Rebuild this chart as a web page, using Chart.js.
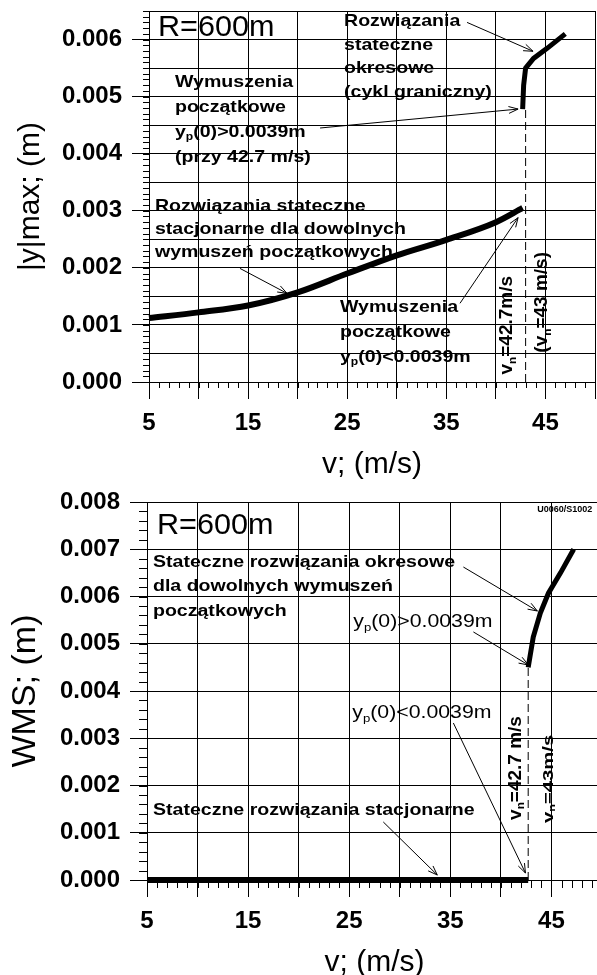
<!DOCTYPE html>
<html>
<head>
<meta charset="utf-8">
<script src="https://cdn.jsdelivr.net/npm/chart.js@4.4.1/dist/chart.umd.min.js"></script>
<style>
    html, body { margin: 0; padding: 0; background: #fff; overflow: hidden; }
    canvas { display: block; }
</style>
</head>
<body>
<canvas id="ampChart" width="597" height="487"></canvas>
<canvas id="wmsChart" width="602" height="488"></canvas>
<script>
// |y|max against speed (R=600m)
const speedLow = [5, 10, 15, 20, 25, 30, 35, 40, 42.7];
const ampLow = [0.00112, 0.00122, 0.00134, 0.00157, 0.00190, 0.00222, 0.00249, 0.00280, 0.00305];
const speedHigh = [42.7, 42.8, 43.0, 43.8, 45.2, 47.0];
const ampHigh = [0.00478, 0.0052, 0.0055, 0.00567, 0.00585, 0.0061];
const ampLimitSpeed = [43, 43];
const ampLimit = [0, 0.00478];

// WMS against speed
const wmsSpeedLow = [5, 42.7];
const wmsLow = [0, 0];
const wmsSpeedHigh = [42.7, 43.2, 43.9, 44.7, 45.9, 47.2];
const wmsHigh = [0.0045, 0.00514, 0.00565, 0.00607, 0.0065, 0.0070];
const wmsLimitSpeed = [42.7, 42.7];
const wmsLimit = [0, 0.0045];

// tick labels
const speedTickLabels = [5, 15, 25, 35, 45];
const ampTickLabels = [0, 0.001, 0.002, 0.003, 0.004, 0.005, 0.006];
const wmsTickLabels = [0, 0.001, 0.002, 0.003, 0.004, 0.005, 0.006, 0.007, 0.008];

const FONT = '"Liberation Sans", Arial, sans-serif';

function hasLabel(list, v) {
    return list.some(l => Math.abs(l - v) < 1e-9);
}

function series(xs, ys, extra) {
    return Object.assign({
        data: xs.map((x, i) => ({ x: x, y: ys[i] })),
        showLine: true,
        pointRadius: 0,
        borderColor: '#000',
        borderWidth: 6,
        clip: false
    }, extra);
}

// text with optional subscripts: parts are strings, or [str] for a subscript
function drawRich(ctx, parts, x, y, o) {
    const sub = o.size * 0.62;
    const fontFor = s => (o.bold ? 'bold ' : '') + s + 'px ' + FONT;
    let w = 0;
    parts.forEach(p => {
        ctx.font = fontFor(Array.isArray(p) ? sub : o.size);
        w += ctx.measureText(Array.isArray(p) ? p[0] : p).width;
    });
    ctx.save();
    ctx.translate(x, y);
    if (o.rotate) ctx.rotate(o.rotate);
    ctx.scale(o.sx || 1, 1);
    ctx.fillStyle = '#000';
    ctx.textBaseline = 'middle';
    ctx.textAlign = 'left';
    let cx = o.center ? -w / 2 : 0;
    parts.forEach(p => {
        const isSub = Array.isArray(p);
        const t = isSub ? p[0] : p;
        ctx.font = fontFor(isSub ? sub : o.size);
        ctx.fillText(t, cx, isSub ? o.size * 0.3 : 0);
        cx += ctx.measureText(t).width;
    });
    ctx.restore();
}

function drawArrow(ctx, x1, y1, x2, y2) {
    const a = Math.atan2(y2 - y1, x2 - x1), h = 10;
    ctx.save();
    ctx.strokeStyle = '#000';
    ctx.lineWidth = 1;
    ctx.beginPath();
    ctx.moveTo(x1, y1);
    ctx.lineTo(x2, y2);
    ctx.moveTo(x2 - h * Math.cos(a - 0.35), y2 - h * Math.sin(a - 0.35));
    ctx.lineTo(x2, y2);
    ctx.lineTo(x2 - h * Math.cos(a + 0.35), y2 - h * Math.sin(a + 0.35));
    ctx.stroke();
    ctx.restore();
}

// small ticks between the labelled ones
function minorTicks(stepX, stepY, len) {
    return {
        id: 'minorTicks',
        afterDraw(chart) {
            const { ctx, chartArea: a, scales: { x, y } } = chart;
            ctx.save();
            ctx.strokeStyle = '#000';
            ctx.lineWidth = 1;
            ctx.beginPath();
            for (let i = 0; x.min + i * stepX <= x.max + 1e-9; i++) {
                const px = Math.round(x.getPixelForValue(x.min + i * stepX)) + 0.5;
                ctx.moveTo(px, a.bottom);
                ctx.lineTo(px, a.bottom + len);
            }
            for (let i = 0; i * stepY <= y.max + 1e-12; i++) {
                const py = Math.round(y.getPixelForValue(i * stepY)) + 0.5;
                ctx.moveTo(a.left - len, py);
                ctx.lineTo(a.left, py);
            }
            ctx.stroke();
            ctx.restore();
        }
    };
}

// labels, arrows and rotated speed labels, placed in data coordinates
function notes(texts, arrows, rotated) {
    return {
        id: 'notes',
        afterDatasetsDraw(chart) {
            const { ctx, scales: { x, y } } = chart;
            const at = p => [x.getPixelForValue(p[0]), y.getPixelForValue(p[1])];
            texts.forEach(t => {
                const [px, py] = at(t.at);
                t.lines.forEach((line, i) => {
                    drawRich(ctx, typeof line === 'string' ? [line] : line, px, py + i * (t.lh || 0),
                        { size: t.size || 17, sx: t.sx || 1.15, bold: t.bold !== false });
                });
            });
            arrows.forEach(ar => {
                const [x1, y1] = at(ar[0]);
                const [x2, y2] = at(ar[1]);
                drawArrow(ctx, x1, y1, x2, y2);
            });
            rotated.forEach(r => {
                const [px, py] = at(r.at);
                drawRich(ctx, r.parts, px, py, { size: r.size, sx: r.sx || 1, bold: true, center: true, rotate: -Math.PI / 2 });
            });
        }
    };
}

function axes(o) {
    return {
        x: {
            type: 'linear',
            min: 5,
            max: 50,
            afterFit: s => {
                s.height = o.xHeight;
                s.paddingLeft = 0; s.paddingRight = 0;
            },
            ticks: {
                stepSize: 5,
                autoSkip: false,
                maxRotation: 0,
                padding: 12,
                color: '#000',
                font: { family: FONT, size: 24, weight: 'bold', lineHeight: 1 },
                callback: v => hasLabel(speedTickLabels, v) ? String(v) : ''
            },
            grid: { color: '#000', lineWidth: 1, tickLength: 17, tickColor: '#000' },
            border: { color: '#000', width: 1 },
            title: {
                display: true,
                text: 'v; (m/s)',
                color: '#000',
                font: { family: FONT, size: 30, lineHeight: 1 },
                padding: { top: 0, bottom: o.xTitlePad }
            }
        },
        y: {
            type: 'linear',
            min: 0,
            max: o.yMax,
            afterFit: s => {
                s.width = o.yWidth;
                s.paddingTop = 0; s.paddingBottom = 0;
            },
            ticks: {
                stepSize: o.yStep,
                autoSkip: false,
                padding: 10,
                color: '#000',
                font: { family: FONT, size: 24, weight: 'bold', lineHeight: 1 },
                callback: v => hasLabel(o.yLabels, v) ? v.toFixed(3) : ''
            },
            grid: {
                color: '#000',
                lineWidth: 1,
                tickLength: 17,
                tickColor: c => (c.tick && hasLabel(o.yLabels, c.tick.value)) ? '#000' : 'rgba(0,0,0,0)'
            },
            border: { color: '#000', width: 1 },
            title: {
                display: true,
                text: o.yTitle,
                color: '#000',
                font: { family: FONT, size: o.yTitleSize, lineHeight: 1 },
                padding: { top: o.yTitlePad, bottom: 0 }
            }
        }
    };
}

const baseOptions = {
    responsive: false,
    animation: false,
    plugins: { legend: { display: false }, tooltip: { enabled: false } }
};

// Top chart: |y|max
new Chart(document.getElementById('ampChart'), {
    type: 'scatter',
    data: {
        datasets: [
            series(ampLimitSpeed, ampLimit, { borderWidth: 1, borderDash: [8, 4] }),
            series(speedLow, ampLow, { cubicInterpolationMode: 'monotone' }),
            series(speedHigh, ampHigh, { borderWidth: 5 })
        ]
    },
    options: Object.assign({}, baseOptions, {
        layout: { padding: { top: 11, right: 2, left: 0, bottom: 0 } },
        scales: axes({
            xHeight: 105, xTitlePad: 7, yWidth: 149, yMax: 0.0065, yStep: 0.0005,
            yLabels: ampTickLabels, yTitle: '|y|max; (m)', yTitleSize: 30, yTitlePad: 16
        })
    }),
    plugins: [
        minorTicks(1, 0.0001, 6),
        notes([
            { at: [5.91, 0.006213], lines: ['R=600m'], size: 30, sx: 1.02, bold: false },
            { at: [24.68, 0.006318], lh: 23.5, lines: ['Rozwiązania', 'stateczne', 'okresowe', '(cykl graniczny)'] },
            { at: [7.62, 0.005253], lh: 25, lines: ['Wymuszenia', 'początkowe', ['y', ['p'], '(0)>0.0039m'], '(przy 42.7 m/s)'] },
            { at: [5.6, 0.003072], lh: 23, lines: ['Rozwiązania stateczne', 'stacjonarne dla dowolnych', 'wymuszeń początkowych'] },
            { at: [24.27, 0.001309], lh: 25, lines: ['Wymuszenia', 'początkowe', ['y', ['p'], '(0)<0.0039m']] }
        ], [
            [[37.09, 0.0063], [43.75, 0.005794]],
            [[22.26, 0.00445], [42.24, 0.004782]],
            [[14.18, 0.00199], [18.93, 0.001553]],
            [[36.38, 0.001379], [42.24, 0.00288]]
        ], [
            { at: [41.13, 0.000995], parts: ['v', ['n'], '=42.7m/s'], size: 19 },
            { at: [44.66, 0.001396], parts: ['(v', ['n'], '=43 m/s)'], size: 19 }
        ])
    ]
});

// Bottom chart: WMS
new Chart(document.getElementById('wmsChart'), {
    type: 'scatter',
    data: {
        datasets: [
            series(wmsLimitSpeed, wmsLimit, { borderWidth: 1, borderDash: [8, 4] }),
            series(wmsSpeedLow, wmsLow),
            series(wmsSpeedHigh, wmsHigh, { borderWidth: 5 })
        ]
    },
    options: Object.assign({}, baseOptions, {
        layout: { padding: { top: 15, right: 0, left: 0, bottom: 0 } },
        scales: axes({
            xHeight: 95, xTitlePad: -3, yWidth: 147, yMax: 0.008, yStep: 0.001,
            yLabels: wmsTickLabels, yTitle: 'WMS; (m)', yTitleSize: 34, yTitlePad: 9
        })
    }),
    plugins: [
        minorTicks(1, 0.0002, 8),
        notes([
            { at: [5.99, 0.007492], lines: ['R=600m'], size: 30, sx: 1.02, bold: false },
            { at: [5.59, 0.00673], lh: 24.5, lines: ['Stateczne rozwiązania okresowe', 'dla dowolnych wymuszeń', 'początkowych'] },
            { at: [25.4, 0.00546], lines: [['y', ['p'], '(0)>0.0039m']], size: 18.5, sx: 1.15, bold: false },
            { at: [25.3, 0.003534], lines: [['y', ['p'], '(0)<0.0039m']], size: 18.5, sx: 1.15, bold: false },
            { at: [5.59, 0.001481], lines: ['Stateczne rozwiązania stacjonarne'] },
            { at: [43.6, 0.00785], lines: ['U0060/S1002'], size: 9, sx: 1 }
        ], [
            [[36.29, 0.006624], [43.61, 0.005693]],
            [[37.28, 0.00525], [42.72, 0.00455]],
            [[35.3, 0.003323], [42.43, 0.000148]],
            [[28.37, 0.001228], [33.71, 0.000106]]
        ], [
            { at: [41.44, 0.00237], parts: ['v', ['n'], '=42.7 m/s'], size: 19 },
            { at: [44.7, 0.00214], parts: ['v', ['n'], '=43m/s'], size: 15, sx: 1.35 }
        ])
    ]
});
</script>
</body>
</html>
